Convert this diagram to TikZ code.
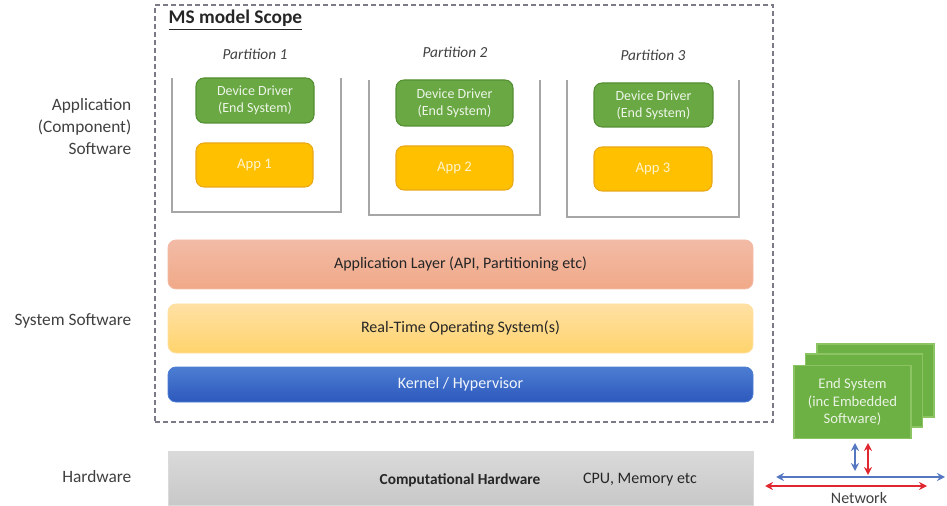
\documentclass[tikz,border=0pt]{standalone}
\usepackage{fontspec}
\setmainfont{Carlito}
\usetikzlibrary{arrows.meta}

\definecolor{txtdark}{HTML}{262626}
\definecolor{txtgray}{HTML}{404040}
\definecolor{scopeline}{HTML}{7A7A88}
\definecolor{bracket}{HTML}{A6A6A6}
\definecolor{ddfill}{HTML}{6AA843}
\definecolor{dddraw}{HTML}{548F33}
\definecolor{appfill}{HTML}{FFC000}
\definecolor{appdraw}{HTML}{E9A818}
\definecolor{aplTop}{HTML}{F2BBA6}
\definecolor{aplMid}{HTML}{FDA38B}
\definecolor{aplBot}{HTML}{F1A988}
\definecolor{rtTop}{HTML}{FFE0A4}
\definecolor{rtMid}{HTML}{FFDA8E}
\definecolor{rtBot}{HTML}{FFD46C}
\definecolor{knTop}{HTML}{4C7DD2}
\definecolor{knBot}{HTML}{2D59BD}
\definecolor{hwTop}{HTML}{DADADA}
\definecolor{hwBot}{HTML}{C8C8C8}
\definecolor{esfill}{HTML}{6DB043}
\definecolor{esdraw}{HTML}{8CC363}
\definecolor{netblue}{HTML}{5577C2}
\definecolor{netred}{HTML}{E0262E}

\begin{document}
\begin{tikzpicture}[x=0.75pt,y=-0.75pt,
  lefttext/.style={text=txtgray, align=right, anchor=east,
    font=\fontsize{13}{16.5}\selectfont},
  parttext/.style={text=txtgray, font=\fontsize{11.5}{14}\selectfont\itshape},
  ddbox/.style={draw=dddraw, fill=ddfill, line width=0.8pt, rounded corners=6pt,
    text=white!88!ddfill, align=center, inner sep=0pt,
    font=\fontsize{10.5}{12.5}\selectfont},
  appbox/.style={draw=appdraw, fill=appfill, line width=0.8pt, rounded corners=6pt,
    text=white!80!appfill, align=center, inner sep=0pt,
    font=\fontsize{11}{13}\selectfont},
  layer/.style={rounded corners=6pt, line width=0.6pt, inner sep=0pt,
    minimum width=585*0.75pt, font=\fontsize{12}{14}\selectfont},
  esbox/.style={draw=esdraw, fill=esfill, line width=0.8pt, inner sep=0pt,
    minimum width=117*0.75pt, minimum height=73*0.75pt},
  bracketline/.style={draw=bracket, line width=2pt},
  netarrow/.style={line width=1.6pt, {Stealth[length=6pt,width=6pt]}-{Stealth[length=6pt,width=6pt]}}
]
\useasboundingbox (0,0) rectangle (947,506);

% model scope frame
\node[draw=scopeline, dashed, dash pattern=on 3.5pt off 2.5pt, line width=0.9pt,
  minimum width=618*0.75pt, minimum height=417*0.75pt, inner sep=0pt]
  (scope) at (464,213.5) {};
\node[anchor=west, text=txtdark, font=\fontsize{14.5}{17}\selectfont\bfseries]
  (scopetitle) at (164,20) {\underline{MS model Scope}};

% layer names on the left
\node[lefttext] (lblapp) at (136,127) {Application\\(Component)\\Software};
\node[lefttext] (lblsys) at (136,321) {System Software};
\node[lefttext] (lblhw) at (136,477) {Hardware};

% partitions
\node[parttext] (p1) at (255,54) {Partition 1};
\node[parttext] (p2) at (455,52) {Partition 2};
\node[parttext] (p3) at (653,55) {Partition 3};

\draw[bracketline] (172,78) -- (172,212) -- (341,212) -- (341,78);
\draw[bracketline] (369,80) -- (369,215) -- (540,215) -- (540,80);
\draw[bracketline] (567,80) -- (567,217) -- (739,217) -- (739,80);

\node[ddbox, minimum width=118*0.75pt, minimum height=45*0.75pt]
  (dd1) at (255,100.5) {Device Driver\\(End System)};
\node[ddbox, minimum width=117*0.75pt, minimum height=46*0.75pt]
  (dd2) at (454.5,103) {Device Driver\\(End System)};
\node[ddbox, minimum width=119*0.75pt, minimum height=44*0.75pt]
  (dd3) at (653.5,105) {Device Driver\\(End System)};

\node[appbox, minimum width=117*0.75pt, minimum height=44*0.75pt]
  (app1) at (254.5,165) {App 1};
\node[appbox, minimum width=117*0.75pt, minimum height=44*0.75pt]
  (app2) at (454.5,168) {App 2};
\node[appbox, minimum width=118*0.75pt, minimum height=44*0.75pt]
  (app3) at (653,169) {App 3};

% system software layers
\node[layer, draw=aplTop, top color=aplTop, middle color=aplMid, bottom color=aplBot,
  minimum height=49*0.75pt, text=txtdark]
  (applayer) at (460.5,264.5) {Application Layer (API, Partitioning etc)};
\node[layer, draw=rtTop, top color=rtTop, middle color=rtMid, bottom color=rtBot,
  minimum height=49*0.75pt, text=txtdark]
  (rtos) at (460.5,328.5) {Real-Time Operating System(s)};
\node[layer, draw=knTop, top color=knTop, bottom color=knBot,
  minimum height=35*0.75pt, text=white!92!knTop]
  (kernel) at (460.5,384.5) {Kernel / Hypervisor};

% hardware
\node[layer, rounded corners=0pt, draw=hwTop, top color=hwTop, bottom color=hwBot,
  minimum height=54*0.75pt] (hw) at (460.5,478) {};
\node[text=txtdark, font=\fontsize{11.5}{14}\selectfont\bfseries]
  (hwname) at (460,480) {Computational Hardware};
\node[text=txtdark, font=\fontsize{12}{14}\selectfont]
  (hwdetail) at (640,480) {CPU, Memory etc};

% stacked end systems
\node[esbox] (es3) at (875.5,380.5) {};
\node[esbox] (es2) at (864,390.5) {};
\node[esbox, text=white!85!esfill, align=center, font=\fontsize{11}{13}\selectfont]
  (es1) at (852.5,402) {End System\\(inc Embedded\\Software)};

% network
\coordinate (bluetop) at (855,443);
\coordinate (bluebot) at (855,471);
\coordinate (redtop) at (868,443);
\coordinate (redbot) at (868,475);
\coordinate (bluewest) at (776,477);
\coordinate (blueeast) at (945,477);
\coordinate (redwest) at (765,486);
\coordinate (redeast) at (927,486);

\draw[netarrow, netblue] (bluewest) -- (blueeast);
\draw[netarrow, netred] (redwest) -- (redeast);
\draw[netarrow, netblue] (bluetop) -- (bluebot);
\draw[netarrow, netred] (redtop) -- (redbot);

\node[text=txtgray, font=\fontsize{12}{14}\selectfont] (net) at (859,498) {Network};
\end{tikzpicture}
\end{document}
